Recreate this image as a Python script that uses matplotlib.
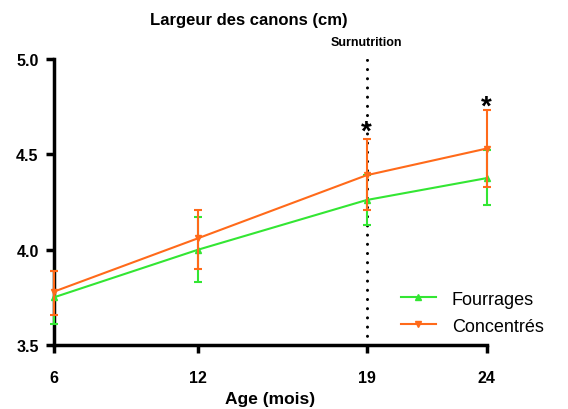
"""
Largeur des canons plot
"""

# LIBRARY

import matplotlib
matplotlib.use('Agg')
import matplotlib.pyplot as plt

plt.rcParams['font.family'] = ['Liberation Sans', 'DejaVu Sans']

# DATA

age = [6, 12, 19, 24]
fourrages = [3.75, 4.00, 4.26, 4.375]
fourrages_lo = [3.61, 3.83, 4.13, 4.235]
fourrages_hi = [3.89, 4.17, 4.39, 4.52]
concentres = [3.78, 4.06, 4.39, 4.53]
concentres_lo = [3.66, 3.90, 4.21, 4.33]
concentres_hi = [3.89, 4.21, 4.58, 4.73]
star_x = [19, 24]
star_y = [4.55, 4.68]
yticks = [3.5, 4.0, 4.5, 5.0]

green = '#33E633'
orange = '#FF6A1A'

# PLOT

fig = plt.figure(figsize=(5.68, 4.10), dpi=100)
ax = fig.add_axes([0.095, 0.156, 0.762, 0.698])

err_f = [[m - lo for m, lo in zip(fourrages, fourrages_lo)],
         [hi - m for m, hi in zip(fourrages, fourrages_hi)]]
err_c = [[m - lo for m, lo in zip(concentres, concentres_lo)],
         [hi - m for m, hi in zip(concentres, concentres_hi)]]

ax.axvline(19, color='black', linestyle=(0, (0.01, 3.0)), lw=2.2,
           dash_capstyle='round', zorder=1)

eb_f = ax.errorbar(age, fourrages, yerr=err_f, color=green, marker='^', markersize=5,
                   lw=1.5, elinewidth=1.5, capsize=3, capthick=1.5,
                   clip_on=False, zorder=3)
eb_c = ax.errorbar(age, concentres, yerr=err_c, color=orange, marker='v', markersize=5,
                   lw=1.5, elinewidth=1.5, capsize=3, capthick=1.5,
                   clip_on=False, zorder=4)

for x, y in zip(star_x, star_y):
    ax.text(x, y, '*', ha='center', va='bottom', fontsize=20, fontweight='bold', color='black')

ax.set_xlim(6, 24)
ax.set_ylim(3.5, 5.0)
ax.set_xticks(age)
ax.set_yticks(yticks)
ax.set_yticklabels(['%.1f' % t for t in yticks])

for side in ['top', 'right']:
    ax.spines[side].set_visible(False)
for side in ['left', 'bottom']:
    ax.spines[side].set_linewidth(2.5)
ax.tick_params(width=2.5, length=6, labelsize=11.5, pad=5)
for lab in ax.get_xticklabels() + ax.get_yticklabels():
    lab.set_fontweight('bold')
ax.tick_params(axis='x', pad=12)

ax.set_xlabel('Age (mois)', fontsize=12.5, fontweight='bold', labelpad=4)
fig.text(249 / 568, 1 - 21 / 410, 'Largeur des canons (cm)', ha='center', va='center',
         fontsize=12, fontweight='bold')
ax.text(19, 5.055, 'Surnutrition', ha='center', va='bottom', fontsize=9, fontweight='bold')

leg = ax.legend([eb_f[0], eb_c[0]], ['Fourrages', 'Concentrés'],
                loc='lower left', bbox_to_anchor=(0.765, -0.02), frameon=False,
                fontsize=13, handlelength=1.9, handletextpad=0.9, labelspacing=0.55)

fig.savefig('out.png', dpi=100)
